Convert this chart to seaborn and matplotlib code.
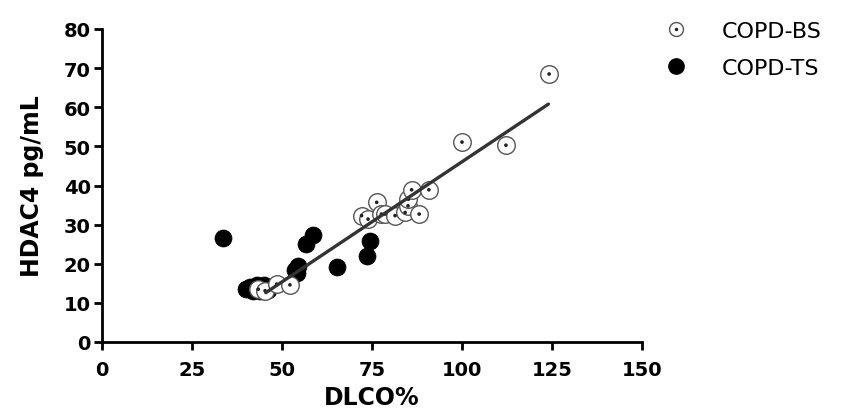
import pandas as pd
import matplotlib.pyplot as plt
import seaborn as sns
from matplotlib.lines import Line2D
from matplotlib.legend_handler import HandlerTuple

# COPD-BS (open circles with dot)
bs_dlco = [43.4, 45.3, 48.5, 52.2, 72.1, 73.9, 76.3, 77.6, 78.6, 81.4,
           84.2, 85.0, 85.1, 86.0, 88.1, 90.8, 100.0, 112.2, 124.2]
bs_hdac4 = [13.5, 13.1, 14.8, 14.6, 32.3, 31.4, 35.7, 32.7, 32.7, 32.3,
            33.1, 34.8, 36.5, 38.9, 32.7, 38.9, 51.1, 50.3, 68.5]

# COPD-TS (filled circles)
ts_dlco = [33.7, 40.0, 41.0, 42.0, 43.0, 44.0, 45.0, 46.0,
           53.5, 54.1, 54.5, 56.7, 58.7, 65.4, 73.5, 74.4]
ts_hdac4 = [26.5, 13.5, 14.0, 13.0, 14.5, 13.0, 14.5, 13.2,
            18.5, 17.6, 19.5, 25.1, 27.4, 19.1, 22.1, 25.9]

# fitted line end points as drawn in the figure
fit_x = [45.5, 124.0]
fit_y = [12.6, 60.8]

x_ticks = [0, 25, 50, 75, 100, 125, 150]
y_ticks = [0, 10, 20, 30, 40, 50, 60, 70, 80]

df_bs = pd.DataFrame({"dlco": bs_dlco, "hdac4": bs_hdac4})
df_ts = pd.DataFrame({"dlco": ts_dlco, "hdac4": ts_hdac4})

sns.set_style("ticks")
plt.rcParams["font.family"] = ["DejaVu Sans"]
plt.rcParams["text.color"] = "black"
plt.rcParams["axes.labelcolor"] = "black"
plt.rcParams["xtick.color"] = "black"
plt.rcParams["ytick.color"] = "black"

fig = plt.figure(figsize=(8.53, 4.14), dpi=100)
ax = fig.add_axes([102 / 853, 71 / 414, 540 / 853, 313 / 414])

sns.scatterplot(x="dlco", y="hdac4", data=df_ts, ax=ax, color="black",
                s=150, edgecolor="black", linewidth=0.5, zorder=2)
sns.scatterplot(x="dlco", y="hdac4", data=df_bs, ax=ax, color="white",
                s=160, edgecolor="#555555", linewidth=1.0, zorder=3)
sns.scatterplot(x="dlco", y="hdac4", data=df_bs, ax=ax, color="#222222",
                s=7, edgecolor="none", zorder=4)

sns.lineplot(x=fit_x, y=fit_y, ax=ax, color="#333333", linewidth=2.4, zorder=5)

ax.set_xlim(0, 150)
ax.set_ylim(0, 80)
ax.set_xticks(x_ticks)
ax.set_yticks(y_ticks)
ax.set_xticklabels([str(t) for t in x_ticks], fontsize=14, fontweight="bold")
ax.set_yticklabels([str(t) for t in y_ticks], fontsize=14, fontweight="bold")
ax.tick_params(width=2.0, length=6, color="black")
ax.tick_params(axis="x", pad=7)
ax.tick_params(axis="y", pad=2)
for s in ["left", "bottom"]:
    ax.spines[s].set_linewidth(2.0)
    ax.spines[s].set_color("black")
sns.despine(ax=ax)
ax.set_xlabel("DLCO%", fontsize=17, fontweight="bold", labelpad=4)
ax.set_ylabel("HDAC4 pg/mL", fontsize=17, fontweight="bold", labelpad=14)

h_bs = (Line2D([], [], marker="o", ls="", ms=10, mfc="white", mec="#555555", mew=1.0),
        Line2D([], [], marker="o", ls="", ms=2.5, mfc="#222222", mec="none"))
h_ts = Line2D([], [], marker="o", ls="", ms=11, mfc="black", mec="black")
fig.legend([h_bs, h_ts], ["COPD-BS", "COPD-TS"],
           handler_map={tuple: HandlerTuple(ndivide=1, pad=0)},
           loc="upper left", bbox_to_anchor=(640 / 853, 1 - 2 / 414),
           frameon=False, fontsize=16, handlelength=1.4, handletextpad=1.4,
           labelspacing=0.75)

fig.savefig("out.png", dpi=100)
